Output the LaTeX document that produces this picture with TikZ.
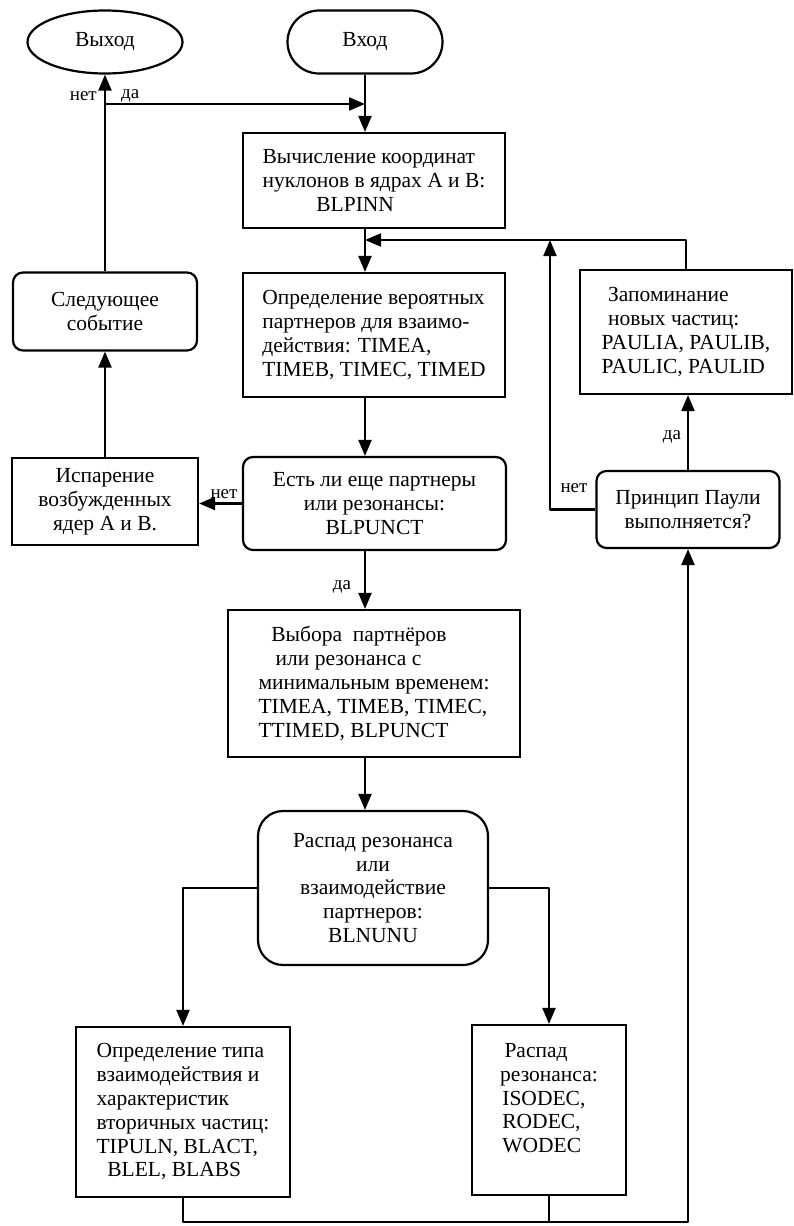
\documentclass[tikz,border=0pt]{standalone}
\usepackage{fontspec}
\setmainfont{Liberation Serif}
\usetikzlibrary{shapes.geometric,shapes.misc,arrows.meta}
\newcommand{\blkfont}{\fontsize{21.5}{23.8}\selectfont}
\newcommand{\lblfont}{\fontsize{19}{21}\selectfont}

\begin{document}
\begin{tikzpicture}[x=1pt,y=-1pt,
  blk/.style={draw,line width=2.2pt,inner sep=0pt,font=\blkfont,align=left},
  rblk/.style={blk,rounded corners=10pt,align=center},
  lbl/.style={font=\lblfont,inner sep=1pt},
  ln/.style={line width=2.2pt,line join=round},
  arr/.style={ln,-{Triangle[length=16pt,width=13pt]}}]
\useasboundingbox (0,0) rectangle (793,1226);

\node[blk,ellipse,minimum width=155pt,minimum height=63pt,align=center] (vyhod) at (105,42) {Выход};
\node[blk,rounded rectangle,minimum width=155pt,minimum height=63pt,align=center] (vhod) at (365,42) {Вход};

\node[blk,minimum width=262pt,minimum height=95pt] (vych) at (374,180.5)
  {Вычисление координат\\нуклонов в ядрах A и B:\\\hspace*{2.5em}BLPINN};
\node[blk,minimum width=262pt,minimum height=124pt] (opred) at (374,335)
  {Определение вероятных\\партнеров для взаимо-\\действия: TIMEA,\\TIMEB, TIMEC, TIMED};
\node[rblk,minimum width=263pt,minimum height=93pt] (est) at (374.5,503.5)
  {Есть ли еще партнеры\\или резонансы:\\BLPUNCT};

\node[rblk,minimum width=184pt,minimum height=78pt] (sled) at (105,311.5) {Следующее\\событие};
\node[blk,minimum width=186pt,minimum height=87pt,align=center] (isp) at (105,501.5)
  {Испарение\\возбужденных\\ядер A и B.};

\node[blk,minimum width=212pt,minimum height=124pt] (zapom) at (686,332)
  {\hspace*{0.3em}Запоминание\\\hspace*{0.3em}новых частиц:\\PAULIA, PAULIB,\\PAULIC, PAULID};
\node[rblk,minimum width=183pt,minimum height=77pt] (pauli) at (688,509.5)
  {Принцип Паули\\выполняется?};

\node[blk,minimum width=292pt,minimum height=147pt] (vybor) at (374,683.5)
  {\hspace*{0.6em}Выбора~ партнёров\\\hspace*{0.8em}или резонанса с\\минимальным временем:\\TIMEA, TIMEB, TIMEC,\\TTIMED, BLPUNCT};
\node[rblk,rounded corners=25pt,minimum width=230pt,minimum height=154pt] (raspad) at (373,888)
  {Распад резонанса\\или\\взаимодействие\\партнеров:\\BLNUNU};

\node[blk,minimum width=214pt,minimum height=170pt] (tip) at (183,1112)
  {Определение типа\\взаимодействия и\\характеристик\\вторичных частиц:\\TIPULN, BLACT,\\\hspace*{0.5em}BLEL, BLABS};
\node[blk,minimum width=154pt,minimum height=170pt] (rezon) at (549,1110)
  {\hspace*{0.2em}Распад\\резонанса:\\\hspace*{0.1em}ISODEC,\\\hspace*{0.1em}RODEC,\\\hspace*{0.1em}WODEC\\\mbox{}};

\coordinate (jl) at (105,104);
\coordinate (jt) at (365,240);
\coordinate (jr) at (550,240);
\coordinate (jb) at (688,1222);

\path[draw,arr] (sled.north) -- (vyhod.south);
\path[draw,arr] (jl) -- (vhod.south |- jl);
\path[draw,arr] (vhod.south) -- (vhod.south |- vych.north);
\path[draw,arr] (isp.north) -- (sled.south);

\path[draw,arr] (jt |- vych.south) -- (jt |- opred.north);
\path[draw,arr] (zapom.north) |- (jt);
\path[draw,arr] (pauli.west) -| (jr);
\path[draw,arr] (pauli.north) -- (pauli.north |- zapom.south);

\path[draw,arr] (jt |- opred.south) -- (jt |- est.north);
\path[draw,arr] (est.west) -- (est.west -| isp.east);
\path[draw,arr] (jt |- est.south) -- (jt |- vybor.north);
\path[draw,arr] (jt |- vybor.south) -- (jt |- raspad.north);

\path[draw,arr] (raspad.west) -| (tip.north);
\path[draw,arr] (raspad.east) -| (rezon.north);
\path[draw,arr] (tip.south) |- (jb) -- (pauli.south);
\path[draw,ln] (rezon.south) -- (rezon.south |- jb);

\node[lbl,anchor=east] (net1) at (98,96) {нет};
\node[lbl,anchor=west] (da1) at (120,96) {да};
\node[lbl] (net2) at (224,494) {нет};
\node[lbl] (da2) at (342,587) {да};
\node[lbl] (net3) at (574,488) {нет};
\node[lbl] (da3) at (672,437) {да};
\end{tikzpicture}
\end{document}
